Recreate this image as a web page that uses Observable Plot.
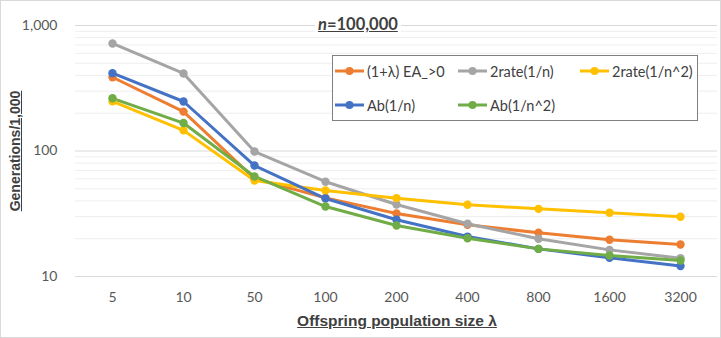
<!DOCTYPE html>
<html><head><meta charset="utf-8">
<script src="https://cdn.jsdelivr.net/npm/d3@7"></script>
<script src="https://cdn.jsdelivr.net/npm/@observablehq/plot@0.6"></script>
<style>
html,body{margin:0;padding:0;background:#fff;}
#wrap{position:relative;width:721px;height:338px;overflow:hidden;font-family:Lato,"Open Sans",sans-serif;}
#border{position:absolute;left:0;top:0;width:719px;height:336px;border:1px solid #d9d9d9;pointer-events:none;}
#title{position:absolute;left:315px;top:14px;padding:0 3px;background:#fff;font-weight:bold;font-size:16.5px;color:#404040;text-decoration:underline;line-height:20px;}
#legend{position:absolute;left:332px;top:55px;width:364px;height:64px;border:1px solid #808080;background:#fff;}
.item{position:absolute;display:flex;align-items:center;font-size:14.5px;color:#404040;white-space:nowrap;}
.item svg{margin-right:3px;}
#ylab{position:absolute;left:15px;top:151px;transform:translate(-50%,-50%) rotate(-90deg);font-family:"Liberation Sans",Arial,sans-serif;font-weight:bold;font-size:14px;color:#404040;text-decoration:underline;white-space:nowrap;}
#xlab{position:absolute;left:397px;top:312px;transform:translateX(-50%);font-family:"Liberation Sans",Arial,sans-serif;font-weight:bold;font-size:15.5px;color:#404040;text-decoration:underline;white-space:nowrap;}
</style></head>
<body>
<div id="wrap"></div>
<script>
const lambdas = ["5","10","50","100","200","400","800","1600","3200"];
const seriesNames = ["(1+λ) EA_>0","2rate(1/n)","2rate(1/n^2)","Ab(1/n)","Ab(1/n^2)"];
const seriesColors = ["#ED7D31","#A5A5A5","#FFC000","#4472C4","#70AD47"];
const ea = [387,206,60.4,42.3,31.8,25.8,22.3,19.6,18.0];
const rate2n = [719,415,99,56.9,37.5,26.3,20.0,16.3,14.0];
const rate2n2 = [249,146,58.2,48.4,42.1,37.3,34.6,32.2,29.9];
const abn = [417,248,76.6,41.8,28.3,20.8,16.6,14.1,12.1];
const abn2 = [263,167,62.7,36.1,25.5,20.2,16.6,14.7,13.4];
const yMajorTicks = [10,100,1000];
const yTickLabels = ["10","100","1,000"];

const allSeries = [ea, rate2n, rate2n2, abn, abn2];
const data = [];
allSeries.forEach((vals,i)=>vals.forEach((v,j)=>data.push({series:seriesNames[i], lambda:lambdas[j], value:v})));

const minorTicks = [];
for (const d of [10,100]) for (let k=2;k<=9;k++) minorTicks.push(d*k);

const plot = Plot.plot({
  width:721, height:338,
  marginLeft:75, marginRight:4, marginTop:25, marginBottom:62,
  style:{fontFamily:"Lato, 'Open Sans', sans-serif", fontSize:"14px", color:"#595959", background:"transparent"},
  x:{type:"point", domain:lambdas, padding:0.5, label:null},
  y:{type:"log", domain:[10,1000], label:null},
  color:{domain:seriesNames, range:seriesColors},
  marks:[
    Plot.ruleY(minorTicks,{stroke:"#eeeeee", strokeWidth:1}),
    Plot.ruleY(yMajorTicks,{stroke:"#d9d9d9", strokeWidth:1}),
    Plot.axisY(yMajorTicks,{tickSize:0, tickPadding:18, tickFormat:(d)=>yTickLabels[yMajorTicks.indexOf(d)], fill:"#595959", label:null}),
    Plot.axisX({tickSize:0, tickPadding:16, fill:"#595959", label:null}),
    Plot.line(data,{x:"lambda", y:"value", z:"series", stroke:"series", strokeWidth:3, curve:"linear"}),
    Plot.dot(data,{x:"lambda", y:"value", fill:"series", r:4.2, stroke:"none"})
  ]
});

const wrap = document.getElementById("wrap");
wrap.appendChild(plot);

const t = document.createElement("div"); t.id="title"; t.innerHTML="<i>n</i>=100,000"; wrap.appendChild(t);
const yl = document.createElement("div"); yl.id="ylab"; yl.textContent="Generations/1,000"; wrap.appendChild(yl);
const xl = document.createElement("div"); xl.id="xlab"; xl.textContent="Offspring population size λ"; wrap.appendChild(xl);

const lg = document.createElement("div"); lg.id="legend"; wrap.appendChild(lg);
const pos = [[2,15],[125,15],[247,15],[2,49],[125,49]];
seriesNames.forEach((name,i)=>{
  const it = document.createElement("div"); it.className="item";
  it.style.left = pos[i][0]+"px"; it.style.top = (pos[i][1]-9)+"px"; it.style.height="18px";
  it.innerHTML = `<svg width="29" height="10"><line x1="0" y1="5" x2="29" y2="5" stroke="${seriesColors[i]}" stroke-width="3"/><circle cx="14.5" cy="5" r="4" fill="${seriesColors[i]}"/></svg><span>${name}</span>`;
  lg.appendChild(it);
});
const b = document.createElement("div"); b.id="border"; wrap.appendChild(b);
</script>
</body></html>
